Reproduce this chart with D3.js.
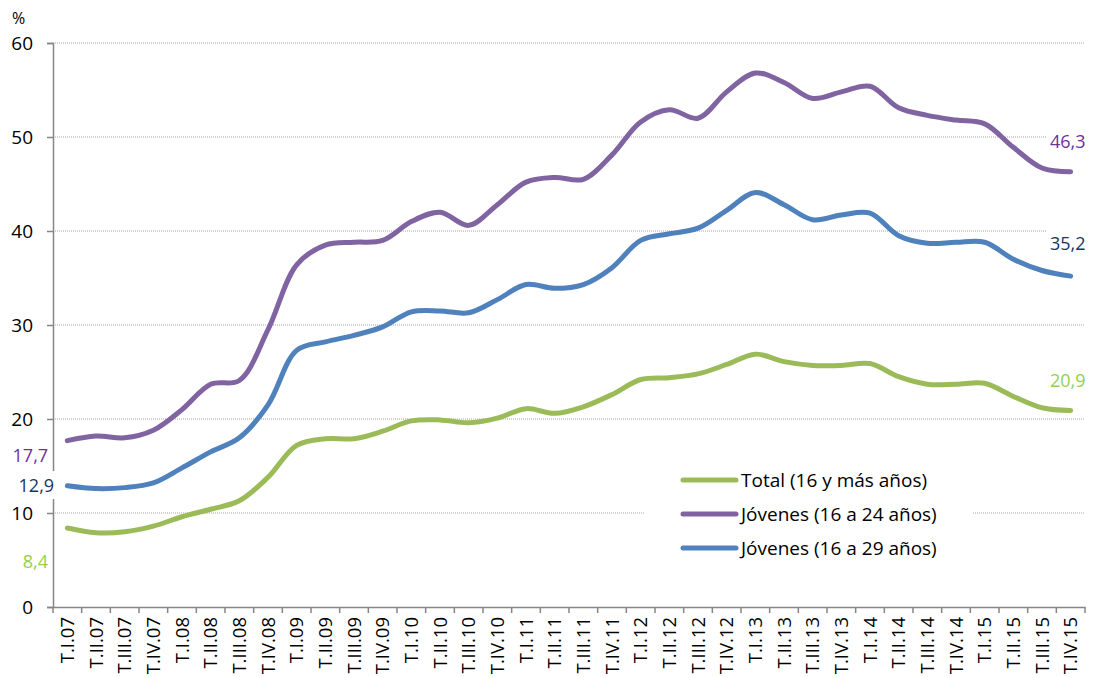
<!DOCTYPE html>
<html>
<head>
<meta charset="utf-8">
<script src="https://cdn.jsdelivr.net/npm/d3@7"></script>
<style>
  body { margin: 0; background: #fff; }
  svg { display: block; }
</style>
</head>
<body>
<svg id="chart" width="1093" height="678"></svg>
<script>
// quarters T.I.07 .. T.IV.15
const quarters = [
  'T.I.07', 'T.II.07', 'T.III.07', 'T.IV.07',
  'T.I.08', 'T.II.08', 'T.III.08', 'T.IV.08',
  'T.I.09', 'T.II.09', 'T.III.09', 'T.IV.09',
  'T.I.10', 'T.II.10', 'T.III.10', 'T.IV.10',
  'T.I.11', 'T.II.11', 'T.III.11', 'T.IV.11',
  'T.I.12', 'T.II.12', 'T.III.12', 'T.IV.12',
  'T.I.13', 'T.II.13', 'T.III.13', 'T.IV.13',
  'T.I.14', 'T.II.14', 'T.III.14', 'T.IV.14',
  'T.I.15', 'T.II.15', 'T.III.15', 'T.IV.15'
]

const total = [8.4, 7.9, 8.0, 8.6, 9.6, 10.4, 11.3, 13.8, 17.2, 17.9, 17.9, 18.7,
  19.8, 19.9, 19.6, 20.1, 21.1, 20.6, 21.3, 22.6, 24.2, 24.4, 24.8, 25.8,
  26.9, 26.1, 25.7, 25.7, 25.9, 24.5, 23.7, 23.7, 23.8, 22.4, 21.2, 20.9]

const young1624 = [17.7, 18.2, 18.0, 18.8, 21.0, 23.7, 24.1, 29.5, 36.4, 38.5, 38.8, 39.0,
  41.0, 42.0, 40.6, 42.8, 45.2, 45.7, 45.5, 48.1, 51.6, 52.9, 52.0, 54.8,
  56.8, 55.8, 54.1, 54.8, 55.4, 53.1, 52.3, 51.8, 51.4, 48.9, 46.7, 46.3]

const young1629 = [12.9, 12.6, 12.7, 13.2, 14.8, 16.5, 18.0, 21.5, 27.3, 28.2, 28.9, 29.8,
  31.4, 31.5, 31.3, 32.7, 34.3, 33.9, 34.3, 36.1, 39.0, 39.7, 40.3, 42.2,
  44.1, 42.8, 41.2, 41.7, 41.9, 39.5, 38.7, 38.8, 38.8, 37.0, 35.8, 35.2]

const yTicks = [0, 10, 20, 30, 40, 50, 60]

const series = [
  {name: 'Total (16 y más años)', values: total, color: '#9bbb59', label: '#92d050'},
  {name: 'Jóvenes (16 a 24 años)', values: young1624, color: '#8064a2', label: '#7030a0'},
  {name: 'Jóvenes (16 a 29 años)', values: young1629, color: '#4f81bd', label: '#17375e'}
]

const svg = d3.select('#chart')
const font = '"Open Sans", "Noto Sans", sans-serif'

const x = d3.scaleBand().domain(quarters).range([53, 1085])
const y = d3.scaleLinear().domain([0, 60]).range([607, 43])
const cx = (q) => x(q) + x.bandwidth() / 2

// dotted gridlines
svg.append('g')
  .selectAll('line')
  .data(yTicks.filter((d) => d > 0))
  .join('line')
  .attr('x1', 53).attr('x2', 1085)
  .attr('y1', (d) => y(d)).attr('y2', (d) => y(d))
  .attr('stroke', '#a6a6a6')
  .attr('stroke-width', 1)
  .attr('stroke-dasharray', '1,1')

// y axis
const yAxis = svg.append('g')
  .attr('transform', 'translate(53,0)')
  .call(d3.axisLeft(y).tickValues(yTicks).tickSize(6).tickPadding(14))
yAxis.select('.domain').attr('stroke', '#868686').attr('stroke-width', 1.5)
yAxis.selectAll('.tick line').attr('stroke', '#868686').attr('stroke-width', 1.5)
yAxis.selectAll('.tick text')
  .attr('font-family', font).attr('font-size', 19).attr('fill', '#000')

// x axis
const xAxis = svg.append('g')
  .attr('transform', 'translate(0,607)')
  .call(d3.axisBottom(x).tickSize(0).tickFormat(''))
xAxis.select('.domain').attr('stroke', '#868686').attr('stroke-width', 1.5)
xAxis.append('g')
  .selectAll('line')
  .data(quarters.concat(['end']))
  .join('line')
  .attr('x1', (d, i) => i < quarters.length ? x(d) : x.range()[1])
  .attr('x2', (d, i) => i < quarters.length ? x(d) : x.range()[1])
  .attr('y1', 0).attr('y2', 6)
  .attr('stroke', '#868686').attr('stroke-width', 1.5)
xAxis.append('g')
  .selectAll('text')
  .data(quarters)
  .join('text')
  .attr('transform', (d) => `translate(${cx(d)},10) rotate(-90)`)
  .attr('dy', '0.36em')
  .attr('text-anchor', 'end')
  .attr('font-family', font)
  .attr('font-size', 18.5)
  .attr('fill', '#000')
  .text((d) => d)

svg.append('text')
  .attr('x', 12).attr('y', 24)
  .attr('font-family', font).attr('font-size', 16)
  .text('%')

// smoothed lines like the spreadsheet
const line = d3.line()
  .x((d, i) => cx(quarters[i]))
  .y((d) => y(d))
  .curve(d3.curveCatmullRom.alpha(0.5))

svg.append('g')
  .selectAll('path')
  .data(series)
  .join('path')
  .attr('d', (s) => line(s.values))
  .attr('fill', 'none')
  .attr('stroke', (s) => s.color)
  .attr('stroke-width', 5)
  .attr('stroke-linecap', 'round')

// value labels at the first and last points, with white boxes
const first = quarters[0]
const last = quarters[quarters.length - 1]
const labels = [
  {s: series[1], q: first, dx: -37, dy: 15},
  {s: series[2], q: first, dx: -31, dy: 0},
  {s: series[0], q: first, dx: -32, dy: 34},
  {s: series[1], q: last, dx: -3, dy: -30},
  {s: series[2], q: last, dx: -3, dy: -32},
  {s: series[0], q: last, dx: -3, dy: -30}
]
const lab = svg.append('g')
labels.forEach((l) => {
  const v = l.q === first ? l.s.values[0] : l.s.values[l.s.values.length - 1]
  const g = lab.append('g')
  const t = g.append('text')
    .attr('x', cx(l.q) + l.dx)
    .attr('y', y(v) + l.dy)
    .attr('dy', '0.35em')
    .attr('text-anchor', 'middle')
    .attr('font-family', font)
    .attr('font-size', 18)
    .attr('fill', l.s.label)
    .text(d3.format('.1f')(v).replace('.', ','))
  const b = t.node().getBBox()
  g.insert('rect', 'text')
    .attr('x', b.x - 3).attr('y', b.y - 2)
    .attr('width', b.width + 6).attr('height', b.height + 4)
    .attr('fill', '#fff')
})

// legend
const legend = svg.append('g').attr('transform', 'translate(645,461)')
legend.append('rect')
  .attr('width', 328).attr('height', 104)
  .attr('fill', '#fff')
const item = legend.selectAll('g.item')
  .data(series)
  .join('g')
  .attr('class', 'item')
  .attr('transform', (d, i) => `translate(0,${19 + i * 34})`)
item.append('line')
  .attr('x1', 38).attr('x2', 91)
  .attr('stroke', (d) => d.color)
  .attr('stroke-width', 5)
  .attr('stroke-linecap', 'round')
item.append('text')
  .attr('x', 96).attr('dy', '0.35em')
  .attr('font-family', font).attr('font-size', 19)
  .attr('fill', '#000')
  .text((d) => d.name)
</script>
</body>
</html>
